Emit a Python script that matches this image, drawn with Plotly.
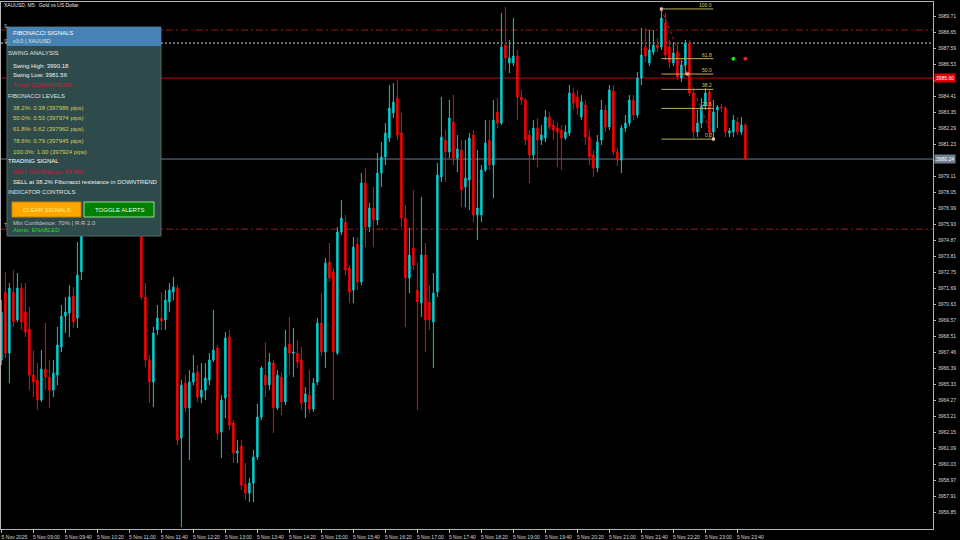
import plotly.graph_objects as go

# ---------------- data ----------------
opens = [3966.93,3971.43,3967.39,3971.43,3969.58,3971.69,3970.11,3968.98,3965.93,3965.60,
3964.28,3966.33,3965.80,3964.94,3965.93,3967.79,3969.84,3970.04,3971.17,3969.71,
3972.76,3975.87,3977.53,3979.51,3978.52,3980.84,3982.16,3980.84,3982.49,3981.50,
3979.84,3981.17,3979.18,3977.53,3978.52,3976.53,3971.10,3966.93,3965.47,3968.92,
3969.71,3969.58,3970.77,3971.43,3971.69,3961.76,3965.40,3963.75,3965.47,3966.13,
3964.48,3964.94,3965.60,3966.93,3967.72,3962.16,3964.41,3968.45,3962.76,3960.77,
3961.23,3958.72,3958.12,3958.78,3960.51,3963.15,3965.93,3965.27,3966.73,3963.75,
3965.80,3964.15,3967.99,3967.39,3967.39,3966.93,3964.15,3964.61,3963.69,3965.47,
3969.38,3967.46,3973.42,3972.76,3967.39,3975.41,3976.07,3973.02,3971.56,3974.61,
3972.10,3978.65,3975.74,3977.00,3976.20,3979.31,3980.37,3981.63,3983.29,3984.28,
3981.96,3976.33,3972.36,3974.35,3971.56,3970.70,3973.88,3970.77,3969.45,3971.43,
3979.05,3981.50,3980.70,3982.69,3980.31,3980.84,3978.39,3978.85,3981.83,3976.53,
3976.53,3979.51,3981.50,3979.84,3983.35,3982.62,3987.79,3986.60,3986.60,3987.06,
3984.35,3984.15,3981.83,3980.51,3982.29,3981.50,3981.63,3983.02,3982.49,3982.29,
3982.16,3981.63,3981.96,3984.61,3984.35,3983.02,3983.82,3981.70,3980.51,3979.64,
3981.50,3983.49,3982.36,3984.74,3980.70,3980.17,3982.29,3982.62,3984.15,3983.16,
3985.60,3987.66,3986.60,3987.33,3987.79,3987.66,3989.25,3987.66,3986.60,3987.33,
3985.60,3986.47,3987.92,3984.61,3982.03,3982.62,3983.75,3984.68,3982.03,3983.49,
3983.69,3983.62,3981.96,3982.03,3982.69,3982.03,3982.49]
highs = [3970.90,3972.76,3972.03,3972.89,3972.69,3972.03,3972.03,3970.44,3967.59,3966.73,
3967.59,3969.38,3966.93,3966.93,3969.12,3970.57,3971.10,3971.89,3971.76,3974.74,
3976.53,3978.19,3980.17,3980.84,3981.50,3982.96,3982.82,3983.49,3983.16,3982.16,
3981.83,3981.50,3979.84,3979.18,3978.85,3977.20,3972.03,3967.26,3969.12,3970.57,
3971.43,3971.56,3972.03,3972.43,3971.89,3965.60,3965.93,3966.27,3967.26,3966.60,
3966.73,3966.73,3967.39,3970.24,3967.92,3964.61,3968.78,3968.92,3962.95,3961.63,
3961.63,3960.11,3959.11,3960.97,3964.02,3966.53,3968.12,3967.39,3966.93,3966.27,
3966.13,3968.92,3969.78,3969.05,3968.25,3967.79,3965.14,3966.27,3965.74,3969.71,
3971.36,3973.68,3974.68,3973.02,3975.74,3977.53,3976.53,3973.22,3975.08,3975.08,
3979.31,3979.64,3977.33,3978.39,3980.64,3981.37,3982.62,3985.14,3985.27,3985.47,
3983.29,3977.20,3975.67,3978.19,3973.42,3977.73,3974.68,3971.89,3972.69,3979.97,
3984.35,3982.16,3984.15,3984.48,3981.83,3981.50,3981.50,3981.96,3982.16,3980.84,
3979.84,3982.82,3982.82,3984.15,3984.28,3989.91,3990.31,3988.12,3989.58,3987.46,
3984.81,3984.28,3982.16,3982.82,3982.95,3982.49,3983.49,3983.35,3982.82,3982.69,
3982.49,3982.49,3985.14,3984.94,3984.81,3984.48,3984.15,3982.16,3980.84,3981.83,
3984.15,3983.82,3985.14,3985.14,3980.97,3982.49,3983.16,3984.48,3984.48,3986.00,
3988.92,3988.92,3988.78,3988.78,3988.25,3990.18,3989.91,3988.12,3987.99,3987.99,
3986.80,3988.12,3988.12,3984.81,3983.49,3984.28,3984.94,3984.81,3984.15,3983.82,
3983.88,3983.75,3982.29,3983.16,3983.02,3983.02,3982.62]
lows = [3966.60,3967.06,3965.40,3969.12,3969.45,3968.92,3968.45,3964.94,3964.48,3963.62,
3964.15,3964.94,3963.75,3964.48,3965.27,3967.46,3968.72,3968.45,3969.05,3969.05,
3972.23,3975.41,3976.86,3977.86,3978.19,3980.17,3979.84,3980.51,3980.84,3979.18,
3979.38,3978.52,3976.86,3976.73,3975.87,3970.90,3966.47,3964.08,3963.82,3968.59,
3968.92,3968.92,3970.11,3970.90,3961.30,3955.87,3963.49,3960.31,3965.27,3964.15,
3964.08,3964.28,3965.27,3966.80,3961.63,3960.44,3963.09,3962.29,3960.11,3960.11,
3958.32,3957.66,3957.52,3957.52,3960.31,3962.95,3964.48,3964.94,3962.09,3963.62,
3963.29,3963.95,3965.93,3965.80,3966.40,3963.62,3963.09,3963.42,3963.49,3965.27,
3967.19,3966.40,3972.10,3964.28,3967.26,3975.21,3972.56,3970.70,3970.70,3971.56,
3971.89,3974.41,3975.41,3974.41,3975.87,3978.39,3979.84,3981.37,3982.96,3981.50,
3975.74,3969.12,3971.36,3972.89,3963.62,3969.78,3967.46,3968.92,3966.40,3971.10,
3978.72,3978.72,3980.31,3979.84,3979.38,3977.06,3977.06,3976.86,3976.07,3974.88,
3976.07,3979.38,3979.51,3977.66,3982.29,3982.49,3986.13,3985.93,3986.40,3982.82,
3983.82,3981.17,3978.65,3980.17,3979.71,3981.17,3981.37,3982.16,3981.50,3979.71,
3979.51,3981.50,3981.76,3983.49,3983.16,3982.82,3981.17,3979.84,3979.05,3979.38,
3981.17,3982.03,3982.16,3980.51,3979.78,3979.31,3982.03,3982.42,3982.82,3982.96,
3985.14,3986.66,3986.40,3987.13,3987.33,3987.46,3986.80,3986.27,3986.40,3985.47,
3985.34,3985.80,3984.41,3981.63,3981.70,3982.29,3983.49,3981.63,3981.56,3982.29,
3983.35,3981.70,3981.70,3981.70,3981.83,3981.83,3980.17]
closes = [3970.11,3967.39,3971.69,3969.45,3971.69,3969.45,3968.78,3965.93,3965.47,3964.28,
3966.33,3965.80,3964.94,3966.07,3967.92,3969.84,3970.11,3971.10,3969.45,3972.56,
3975.87,3977.53,3979.51,3978.52,3980.84,3982.16,3980.84,3982.49,3981.50,3979.84,
3981.17,3979.18,3977.53,3978.52,3976.53,3971.10,3966.93,3965.47,3968.72,3969.71,
3969.51,3970.90,3971.56,3971.76,3961.63,3965.27,3963.75,3965.47,3966.07,3964.48,
3964.94,3965.74,3966.93,3967.59,3962.09,3964.28,3968.39,3962.62,3960.77,3960.90,
3958.65,3958.12,3958.78,3960.51,3963.15,3966.40,3965.27,3966.80,3963.75,3965.93,
3964.15,3967.79,3967.39,3967.46,3966.80,3964.08,3964.68,3963.69,3965.40,3969.38,
3967.46,3973.35,3972.36,3967.46,3975.41,3976.33,3972.89,3971.43,3974.41,3972.10,
3978.65,3975.74,3977.00,3976.20,3979.31,3980.37,3981.96,3983.62,3984.02,3981.83,
3976.33,3972.36,3973.88,3973.22,3970.77,3973.88,3969.58,3969.58,3971.36,3979.18,
3981.70,3980.70,3982.96,3980.31,3980.90,3978.19,3978.98,3981.63,3976.53,3977.00,
3979.51,3981.30,3979.84,3982.82,3982.62,3987.66,3986.93,3986.93,3987.06,3984.35,
3984.15,3981.50,3980.51,3982.29,3981.50,3981.83,3983.02,3982.36,3982.16,3982.03,
3981.63,3982.03,3984.61,3983.95,3983.62,3984.02,3981.70,3980.37,3979.64,3981.37,
3983.49,3982.36,3984.81,3980.70,3980.17,3982.29,3982.62,3984.15,3983.16,3985.60,
3987.13,3987.06,3987.46,3987.79,3987.59,3989.58,3987.13,3986.66,3987.26,3985.67,
3986.47,3987.92,3984.61,3982.03,3982.62,3983.75,3984.61,3982.03,3983.35,3983.69,
3983.62,3982.03,3982.10,3982.82,3982.03,3982.49,3980.24]

bar_index = list(range(len(closes)))

x_tick_bars = [0, 8, 16, 24, 32, 40, 48, 56, 64, 72, 80, 88, 96, 104, 112, 120,
               128, 136, 144, 152, 160, 168, 176, 184]
x_tick_labels = ["5 Nov 2025", "5 Nov 09:00", "5 Nov 09:40", "5 Nov 10:20", "5 Nov 11:00",
                 "5 Nov 11:40", "5 Nov 12:20", "5 Nov 13:00", "5 Nov 13:40", "5 Nov 14:20",
                 "5 Nov 15:00", "5 Nov 15:40", "5 Nov 16:20", "5 Nov 17:00", "5 Nov 17:40",
                 "5 Nov 18:20", "5 Nov 19:00", "5 Nov 19:40", "5 Nov 20:20", "5 Nov 21:00",
                 "5 Nov 21:40", "5 Nov 22:20", "5 Nov 23:00", "5 Nov 23:40"]
y_tick_values = [3989.71, 3988.65, 3987.59, 3986.53, 3985.47, 3984.41, 3983.35,
                 3982.29, 3981.23, 3980.17, 3979.11, 3978.05, 3976.99, 3975.93,
                 3974.87, 3973.81, 3972.75, 3971.69, 3970.63, 3969.57, 3968.51,
                 3967.46, 3966.39, 3965.33, 3964.27, 3963.21, 3962.15, 3961.09,
                 3960.03, 3958.97, 3957.91, 3956.85]

swing_high = 3990.18
swing_low = 3981.56
swing_high_bar = 165
swing_low_bar = 178
fib_ratios = [1.0, 0.618, 0.5, 0.382, 0.236, 0.0]
fib_labels = ["100.0", "61.8", "50.0", "38.2", "23.6", "0.0"]

stop_loss = 3988.78
entry_level = 3987.92
resistance_level = 3985.60
bid_price = 3980.24
take_profit = 3975.60
signal_bars = [183, 186]
signal_price = 3986.89

panel_levels = ["38.2%: 0.38 (397986 pips)", "50.0%: 0.50 (397974 pips)",
                "61.8%: 0.62 (397962 pips)", "78.6%: 0.79 (397945 pips)",
                "100.0%: 1.00 (397924 pips)"]

# ---------------- style ----------------
W, H = 960, 540
ML, MR, MT, MB = 1, 27, 2, 11
PW, PH = W - ML - MR, H - MT - MB
FONT = "Liberation Sans, Arial, sans-serif"
UP = "#00CED1"
DN = "#FF0000"
KHAKI = "#D8CC5A"


def xp(px):
    return (px - ML) / PW


def yp(py):
    return 1 - (py - MT) / PH


fig = go.Figure()
fig.add_trace(go.Candlestick(
    x=bar_index, open=opens, high=highs, low=lows, close=closes,
    increasing=dict(line=dict(color=UP, width=1), fillcolor=UP),
    decreasing=dict(line=dict(color=DN, width=1), fillcolor=DN),
    whiskerwidth=0, showlegend=False, hoverinfo="skip"))

# zigzag swing line with markers
mid_price = (swing_high + swing_low) / 2
fig.add_trace(go.Scatter(
    x=[swing_high_bar, (swing_high_bar + swing_low_bar) / 2, swing_low_bar],
    y=[swing_high, mid_price, swing_low], mode="lines+markers",
    line=dict(color="#C01818", width=1, dash="dot"),
    marker=dict(symbol="square", size=3, color="#FFC8C8"),
    showlegend=False, hoverinfo="skip"))

# signal dots
fig.add_trace(go.Scatter(
    x=signal_bars, y=[signal_price, signal_price], mode="markers",
    marker=dict(size=4, color=["#22DD22", "#DD2222"]),
    showlegend=False, hoverinfo="skip"))

shapes = []
# horizontal level lines
for val, col, dash in [(stop_loss, "#9B1B1B", "7px,3px,2px,3px"),
                       (entry_level, "#D8D8D8", "2px,2px"),
                       (resistance_level, "#B01010", "solid"),
                       (bid_price, "#6F7D8C", "solid"),
                       (take_profit, "#9B1B1B", "7px,3px,2px,3px")]:
    shapes.append(dict(type="line", xref="paper", yref="y", x0=0, x1=1, y0=val, y1=val,
                       line=dict(color=col, width=1, dash=dash), layer="below"))

# fibonacci levels
annotations = []
for r, lab in zip(fib_ratios, fib_labels):
    lvl = swing_low + r * (swing_high - swing_low)
    shapes.append(dict(type="line", xref="x", yref="y", x0=swing_high_bar, x1=swing_low_bar,
                       y0=lvl, y1=lvl, line=dict(color="#BDB35A", width=1), layer="above"))
    annotations.append(dict(xref="x", yref="y", x=swing_low_bar, y=lvl, text=lab,
                            xanchor="right", yanchor="bottom", showarrow=False,
                            font=dict(family=FONT, size=5, color=KHAKI), borderpad=0))

# info panel
shapes.append(dict(type="rect", xref="paper", yref="paper", x0=xp(7), x1=xp(161),
                   y0=yp(236), y1=yp(27), fillcolor="#2E4A4A",
                   line=dict(color="#52696A", width=1), layer="above"))
shapes.append(dict(type="rect", xref="paper", yref="paper", x0=xp(7), x1=xp(161),
                   y0=yp(46), y1=yp(27), fillcolor="#4682B4",
                   line=dict(width=0), layer="above"))
shapes.append(dict(type="rect", xref="paper", yref="paper", x0=xp(12), x1=xp(81),
                   y0=yp(217), y1=yp(202), fillcolor="#FFA500",
                   line=dict(color="#C88000", width=1), layer="above"))
shapes.append(dict(type="rect", xref="paper", yref="paper", x0=xp(84), x1=xp(154),
                   y0=yp(217), y1=yp(202), fillcolor="#008000",
                   line=dict(color="#8EE08E", width=1), layer="above"))


def txt(px, py, s, color, size=6, anchor="left"):
    annotations.append(dict(xref="paper", yref="paper", x=xp(px), y=yp(py), text=s,
                            xanchor=anchor, yanchor="middle", showarrow=False, borderpad=0,
                            font=dict(family=FONT, size=size, color=color)))


txt(3, 5, "XAUUSD, M5:  Gold vs US Dollar", "#E8E8E8", 5)
txt(3, 26, "S", "#BBBBBB", 5)
txt(3, 41, "S", "#BBBBBB", 5)
txt(3, 225, "T", "#BBBBBB", 5)

txt(12, 33, "FIBONACCI SIGNALS", "#FFFFFF", 6)
txt(12, 41, "v3.0 | XAUUSD", "#D8E6F2", 5.5)
txt(7, 53, "SWING ANALYSIS", "#E0E0E0", 6)
txt(12, 66, "Swing High: 3990.18", "#F0F0F0", 6)
txt(12, 75, "Swing Low: 3981.56", "#F0F0F0", 6)
txt(12, 85, "Trend: DOWNTREND", "#DC143C", 6)
txt(7, 96, "FIBONACCI LEVELS", "#E0E0E0", 6)
for k, s in enumerate(panel_levels):
    txt(12, [108, 118, 129, 141, 152][k], s, KHAKI, 6)
txt(7, 161, "TRADING SIGNAL", "#FFFFFF", 6)
txt(12, 172, "SELL (Confidence: 85.0%)", "#DC143C", 6)
txt(12, 182, "SELL at 38.2% Fibonacci resistance in DOWNTREND", "#F0F0F0", 6)
txt(7, 192, "INDICATOR CONTROLS", "#E0E0E0", 6)
txt(46.5, 209.5, "CLEAR SIGNALS", "#FFF3A0", 6, "center")
txt(119, 209.5, "TOGGLE ALERTS", "#E8FFE8", 6, "center")
txt(12, 223, "Min Confidence: 70% | R:R 2.0", "#C8C8C8", 6)
txt(12, 230, "Alerts: ENABLED", "#32CD32", 6)

# price labels on the axis (they cover the regular tick labels underneath)
annotations.append(dict(xref="paper", yref="y", x=xp(934), y=resistance_level,
                        text=f"{resistance_level:.2f}", xanchor="left", yanchor="middle",
                        showarrow=False, bgcolor="#E00000", borderpad=1,
                        font=dict(family=FONT, size=5, color="#FFFFFF")))
annotations.append(dict(xref="paper", yref="y", x=xp(934), y=bid_price,
                        text=f"{bid_price:.2f}", xanchor="left", yanchor="middle",
                        showarrow=False, bgcolor="#708090", borderpad=1,
                        font=dict(family=FONT, size=5, color="#FFFFFF")))

covered = {3985.47, 3980.17}
y_tick_text = ["" if v in covered else f"{v:.2f}" for v in y_tick_values]

fig.update_layout(
    width=W, height=H, margin=dict(l=ML, r=MR, t=MT, b=MB, autoexpand=False),
    paper_bgcolor="#000000", plot_bgcolor="#000000", boxgap=0.5,
    shapes=shapes, annotations=annotations, showlegend=False,
    xaxis=dict(range=[-0.1, 232.9], rangeslider=dict(visible=False), showgrid=False,
               zeroline=False, showline=True, mirror=True, linecolor="#B4B4B4", linewidth=1,
               tickvals=x_tick_bars, ticktext=x_tick_labels, ticks="outside", ticklen=3,
               tickcolor="#B4B4B4", ticklabelshift=13, ticklabelstandoff=0,
               tickfont=dict(family=FONT, size=5, color="#D8D8D8")),
    yaxis=dict(range=[3955.74, 3990.64], side="right", showgrid=False, zeroline=False,
               showline=True, mirror=True, linecolor="#B4B4B4", linewidth=1,
               tickvals=y_tick_values, ticktext=y_tick_text,
               ticks="outside", ticklen=2, tickcolor="#B4B4B4", ticklabelstandoff=1,
               tickfont=dict(family=FONT, size=5, color="#D8D8D8")),
)

fig.write_html("out.html",
               config={"displayModeBar": False, "staticPlot": True},
               post_script="document.body.style.margin='0';"
                           "document.body.style.overflow='hidden';"
                           "document.body.style.background='#000';")
